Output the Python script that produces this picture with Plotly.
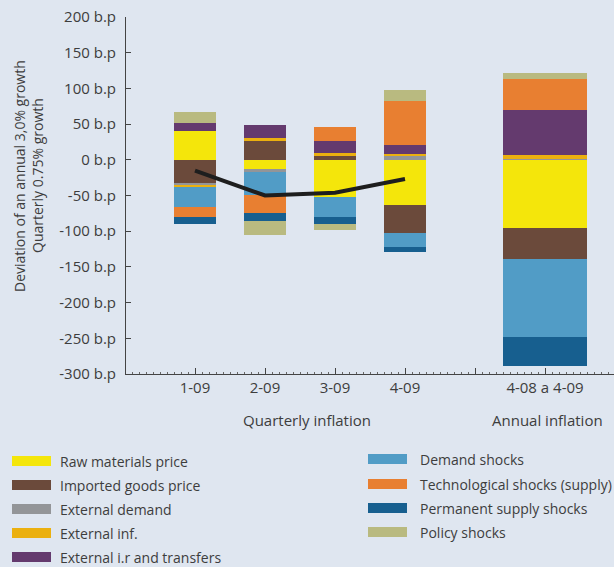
import plotly.graph_objects as go

# ---- data (b.p.) ----
categories = ["1-09", "2-09", "3-09", "4-09", "4-08 a 4-09"]
cat_pos = [0, 1, 2, 3, 5]          # gap slot at 4 separates annual bar
raw_materials = [40, -13.3, -52.6, -63.8, -96]
imported_goods = [-33, 26, 4.9, -39.3, -43.5]
external_demand = [-2.8, -4.2, 0, 4.9, 1.7]
external_inf = [-2.8, 4.2, 4.2, 2.8, 4.6]
external_ir = [11.2, 18.2, 16.8, 12.6, 63]
demand_shocks = [-27.6, -31.8, -28, -19.6, -108]
tech_shocks = [-14, -25.7, 19.6, 61.7, 43.5]
permanent_supply = [-10.2, -11.2, -9.8, -7, -40.6]
policy_shocks = [15.8, -19.6, -8.4, 15.4, 8.4]
quarterly_total = [-15, -50, -46, -27]

y_ticks = [200, 150, 100, 50, 0, -50, -100, -150, -200, -250, -300]

series = [
    ("Raw materials price", raw_materials, "#f4e60b"),
    ("Imported goods price", imported_goods, "#6b4a3b"),
    ("External demand", external_demand, "#939598"),
    ("External inf.", external_inf, "#ebb00f"),
    ("External i.r and transfers", external_ir, "#643a6e"),
    ("Demand shocks", demand_shocks, "#519cc6"),
    ("Technological shocks (supply)", tech_shocks, "#e87f31"),
    ("Permanent supply shocks", permanent_supply, "#175f8f"),
    ("Policy shocks", policy_shocks, "#b9ba80"),
]

bar_widths = [0.614, 0.614, 0.614, 0.614, 1.2]
BG = "#dfe6f0"
TXT = "#3d3d3d"
FONT = "Open Sans"

fig = go.Figure()
for name, vals, col in series:
    fig.add_trace(go.Bar(x=cat_pos, y=vals, name=name, width=bar_widths,
                         marker=dict(color=col, line=dict(width=0)),
                         showlegend=False))
fig.add_trace(go.Scatter(x=cat_pos[:4], y=quarterly_total, mode="lines",
                         line=dict(color="#1e1e1e", width=4), showlegend=False))

# plot area in pixels
L, R, T, B = 126, 614, 17, 374
W, H = 614, 567
def px(x):
    return (x - L) / (R - L)
def py(y):
    return (B - y) / (B - T)

ann = []
shapes = []
# category group labels
ann.append(dict(text="Quarterly inflation", x=1.6, xref="x", y=py(420), yref="paper",
                xanchor="center", yanchor="middle",
                showarrow=False, font=dict(size=15, color=TXT, family=FONT)))
ann.append(dict(text="Annual inflation", x=5.03, xref="x", y=py(420), yref="paper",
                xanchor="center", yanchor="middle",
                showarrow=False, font=dict(size=15, color=TXT, family=FONT)))
# y-axis title (two lines)
ann.append(dict(text="Deviation of an annual 3,0% growth", x=px(19), xref="paper",
                y=py(176), yref="paper", textangle=-90, showarrow=False,
                xanchor="center", yanchor="middle",
                font=dict(size=14, color=TXT, family=FONT)))
ann.append(dict(text="Quarterly 0.75% growth", x=px(37), xref="paper",
                y=py(176), yref="paper", textangle=-90, showarrow=False,
                xanchor="center", yanchor="middle",
                font=dict(size=14, color=TXT, family=FONT)))

# manual legend, two columns
left_rows = [461, 485, 509, 533, 557]
right_rows = [459, 484, 508, 532]
for i, (name, vals, col) in enumerate(series):
    if i < 5:
        yy, sx0, sx1, tx = left_rows[i], 12, 51, 58
    else:
        yy, sx0, sx1, tx = right_rows[i - 5], 368, 407, 418
    shapes.append(dict(type="rect", xref="paper", yref="paper",
                       x0=px(sx0), x1=px(sx1), y0=py(yy + 5), y1=py(yy - 5),
                       fillcolor=col, line=dict(width=0), layer="above"))
    ann.append(dict(text=name, x=px(tx), xref="paper", y=py(yy), yref="paper",
                    xanchor="left", yanchor="middle", showarrow=False,
                    font=dict(size=14, color=TXT, family=FONT)))

fig.update_layout(
    width=W, height=H,
    margin=dict(l=L, r=W - R, t=T, b=H - B),
    paper_bgcolor=BG, plot_bgcolor=BG,
    barmode="relative", bargap=0,
    font=dict(family=FONT, color=TXT, size=15),
    annotations=ann, shapes=shapes,
    xaxis=dict(range=[(L - 195) / 70, (R - 195) / 70], tickmode="array",
               tickvals=[0, 1, 2, 3, 4, 5],
               ticktext=categories[:4] + [""] + categories[4:],
               ticks="inside", ticklen=6, tickcolor="#444", tickwidth=1,
               showline=True, linecolor="#444", linewidth=1,
               showgrid=False, zeroline=False,
               minor=dict(ticks="inside", ticklen=2, dtick=0.1, tick0=0,
                          tickcolor="#666", showgrid=False),
               tickfont=dict(size=15, color=TXT)),
    yaxis=dict(range=[-300, 200], tickmode="array", tickvals=y_ticks,
               ticktext=[f"{v} b.p" for v in y_ticks],
               ticks="inside", ticklen=5, tickcolor="#444",
               showline=True, linecolor="#444", linewidth=1,
               showgrid=False, zeroline=False, ticklabelstandoff=6,
               tickfont=dict(size=15, color=TXT)),
)

fig.write_html("out.html", config={"displayModeBar": False},
               post_script="document.body.style.margin='0';"
                           "document.body.style.overflow='hidden';"
                           "document.body.style.background='" + BG + "';")
